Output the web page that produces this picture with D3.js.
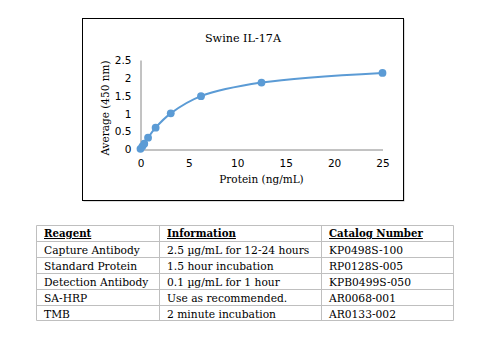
<!DOCTYPE html>
<html><head><meta charset="utf-8">
<script src="https://cdn.jsdelivr.net/npm/d3@7"></script>
<style>
body{margin:0;background:#fff;}
svg{display:block;}
text{font-family:"DejaVu Serif",serif;fill:#000;}
</style></head>
<body><svg id="c" width="497" height="357"></svg>
<script>
const title = "Swine IL-17A";
const xLabel = "Protein (ng/mL)";
const yLabel = "Average (450 nm)";
const concentrations = [0, 0.195, 0.39, 0.78, 1.5625, 3.125, 6.25, 12.5, 25];
const absorbance = [0.02, 0.09, 0.16, 0.33, 0.61, 1.01, 1.49, 1.87, 2.14];
const xTicks = [0, 5, 10, 15, 20, 25];
const yTicks = [0, 0.5, 1, 1.5, 2, 2.5];
const tableHeaders = ["Reagent", "Information", "Catalog Number"];
const reagents = ["Capture Antibody", "Standard Protein", "Detection Antibody", "SA-HRP", "TMB"];
const information = ["2.5 \u00b5g/mL for 12-24 hours", "1.5 hour incubation", "0.1 \u00b5g/mL for 1 hour", "Use as recommended.", "2 minute incubation"];
const catalogNumbers = ["KP0498S-100", "RP0128S-005", "KPB0499S-050", "AR0068-001", "AR0133-002"];

const svg = d3.select("#c");

// chart frame
svg.append("rect").attr("x",83.5).attr("y",19.5).attr("width",321).attr("height",182).attr("fill","#bbb");
svg.append("rect").attr("x",82.5).attr("y",18.5).attr("width",321).attr("height",182).attr("fill","#fff").attr("stroke","#000").attr("stroke-width",1);

const x = d3.scaleLinear().domain([0,25]).range([140.5,382.5]);
const y = d3.scaleLinear().domain([0,2.5]).range([149.5,60]);

svg.append("text").attr("x",243).attr("y",41.5).attr("text-anchor","middle").style("font-size","11.2px").text(title);

const xa = svg.append("g").attr("transform","translate(0,149.5)")
  .call(d3.axisBottom(x).tickValues(xTicks).tickSize(0).tickPadding(10).tickFormat(d3.format("")));
xa.select(".domain").attr("stroke","#868686");
xa.selectAll("text").style("font-size","10.5px").style("font-family","DejaVu Sans, sans-serif");

const ya = svg.append("g").attr("transform","translate(140.5,0)")
  .call(d3.axisLeft(y).tickValues(yTicks).tickSize(0).tickPadding(9).tickFormat(d3.format("")));
ya.select(".domain").attr("stroke","#868686");
ya.selectAll("text").style("font-size","10.5px").style("font-family","DejaVu Sans, sans-serif");

svg.append("text").attr("x",261.5).attr("y",182.5).attr("text-anchor","middle").style("font-size","10.5px").text(xLabel);
svg.append("text").attr("transform","translate(109,108) rotate(-90)").attr("text-anchor","middle").style("font-size","10.5px").text(yLabel);

const pts = concentrations.map((c,i)=>[c,absorbance[i]]);
svg.append("path").datum(pts)
  .attr("d", d3.line().x(d=>x(d[0])).y(d=>y(d[1])).curve(d3.curveCatmullRom.alpha(0.5)))
  .attr("fill","none").attr("stroke","#5B9BD5").attr("stroke-width",2);
svg.selectAll("circle.pt").data(pts).join("circle").attr("class","pt")
  .attr("cx",d=>x(d[0])).attr("cy",d=>y(d[1])).attr("r",3.9).attr("fill","#5B9BD5");

// table
const colX = [36.5, 159.5, 321.5, 453.5];
const rowY = [225.5, 241.5, 257.5, 273.5, 289.5, 305.5, 320.5];
const tg = svg.append("g");
rowY.forEach(v=>tg.append("line").attr("x1",colX[0]).attr("x2",colX[3]).attr("y1",v).attr("y2",v).attr("stroke","#bfbfbf"));
colX.forEach(v=>tg.append("line").attr("x1",v).attr("x2",v).attr("y1",rowY[0]).attr("y2",rowY[6]).attr("stroke","#bfbfbf"));
const textX = [44, 167, 329];
tableHeaders.forEach((h,i)=>{
  tg.append("text").attr("x",textX[i]).attr("y",rowY[0]+11.5).style("font-size","10.2px").style("font-weight","bold")
    .style("text-decoration","underline").text(h);
});
const cols = [reagents, information, catalogNumbers];
cols.forEach((col,ci)=>col.forEach((t,ri)=>{
  tg.append("text").attr("x",textX[ci]).attr("y",rowY[ri+1]+12).style("font-size","10.7px").text(t);
}));
</script></body></html>
